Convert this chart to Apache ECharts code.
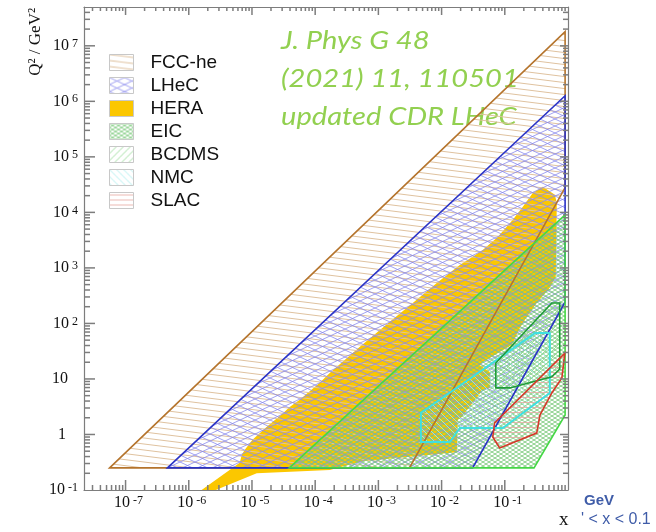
<!DOCTYPE html>
<html>
<head>
<meta charset="utf-8">
<script src="https://cdn.jsdelivr.net/npm/echarts@6/dist/echarts.min.js"></script>
<style>
  html, body { margin: 0; padding: 0; background: #fff; }
  #chart { width: 656px; height: 532px; }
</style>
</head>
<body>
<div id="chart"></div>
<script>
// kinematic regions, each point is [x, Q2 in GeV^2]
const FCC_HE = [[5.6e-8, 0.25], [0.9, 1.8e7], [0.9, 2.8e4], [3.1e-3, 0.25]];
const LHEC = [[4.6e-7, 0.25], [0.9, 1.26e6], [0.9, 244], [0.031, 0.25]];
const EIC = [[3.9e-5, 0.25], [0.9, 9.0e3], [0.9, 2.24], [0.29, 0.25]];
const HERA = [
    [1.5e-6, 0.095], [4.9e-6, 0.25], [6.4e-6, 0.31], [6.9e-6, 0.43], [7.7e-6, 0.53],
    [1.02e-5, 0.80], [1.7e-5, 1.36], [3.1e-5, 2.4], [3.9e-5, 3.1], [5.7e-5, 4.2],
    [1.18e-4, 8.5], [1.7e-4, 12.8], [5.1e-4, 38], [1.5e-3, 106], [3.5e-3, 234],
    [8.4e-3, 537], [0.0194, 1130], [0.031, 1580], [0.0448, 2110], [0.0774, 3620],
    [0.134, 7330], [0.193, 1.26e4], [0.277, 2.24e4], [0.40, 2.88e4], [0.62, 2.07e4],
    [0.665, 1.48e4], [0.64, 690], [0.515, 437], [0.32, 234], [0.223, 131],
    [0.173, 83], [0.129, 41], [0.0448, 20.2], [0.040, 17.9], [0.058, 13.4],
    [0.058, 6.9], [0.0448, 6.3], [0.0208, 2.07], [0.018, 1.82], [0.0174, 0.48],
    [5.6e-4, 0.33], [1.7e-4, 0.23], [1.19e-5, 0.20], [2.4e-6, 0.095]
];
const NMC = [[4.7e-3, 2.44], [4.7e-3, 0.73], [0.0135, 0.73], [0.0194, 1.31], [0.093, 1.31], [0.515, 5.6], [0.515, 67], [0.30, 67]];
const BCDMS = [[0.072, 19.4], [0.072, 6.9], [0.12, 6.9], [0.555, 10.9], [0.74, 15.1], [0.74, 234], [0.555, 234]];
const SLAC = [[0.069, 1.61], [0.0645, 0.90], [0.083, 0.57], [0.32, 1.06], [0.36, 2.24], [0.555, 5.6], [0.80, 10.4], [0.89, 29]];

const LEGEND_NAMES = ['FCC-he', 'LHeC', 'HERA', 'EIC', 'BCDMS', 'NMC', 'SLAC'];
const X_RANGE = [2.2e-8, 1];
const Q2_RANGE = [0.1, 5e7];
const X_TICK_POWERS = [-7, -6, -5, -4, -3, -2, -1];
const Y_TICK_POWERS = [-1, 0, 1, 2, 3, 4, 5, 6, 7];

// 1 (major) or 2..9 (minor) times each decade, kept inside the axis range
function logTicks(range, mults) {
    const out = [];
    for (let d = Math.floor(Math.log10(range[0])); d <= Math.ceil(Math.log10(range[1])); d++) {
        for (const k of mults) {
            const v = k * Math.pow(10, d);
            if (v > range[0] * 1.0001 && v < range[1] * 0.9999) out.push(v);
        }
    }
    return out;
}
const MINOR = [2, 3, 4, 5, 6, 7, 8, 9];

// little canvases used as hatch fills
function hatch(w, h, color, lw, segs) {
    const c = document.createElement('canvas');
    c.width = w; c.height = h;
    const ctx = c.getContext('2d');
    ctx.strokeStyle = color;
    ctx.lineWidth = lw;
    for (const s of segs) {
        for (const dx of [-w, 0, w]) {
            for (const dy of [-h, 0, h]) {
                ctx.beginPath();
                ctx.moveTo(s[0] + dx, s[1] + dy);
                ctx.lineTo(s[2] + dx, s[3] + dy);
                ctx.stroke();
            }
        }
    }
    return { image: c, repeat: 'repeat' };
}

const fillFcc = hatch(48, 6, '#dfc29f', 1, [[0, 0, 48, 6]]);
const fillLhec = hatch(15, 7, '#8a8aee', 0.8, [[0, 0, 15, 7], [0, 7, 15, 0]]);
const fillEic = hatch(6, 4, '#78c878', 0.85, [[0, 0, 6, 4], [0, 4, 6, 0]]);
const fillBcdms = hatch(7, 7, '#8fd88f', 0.8, [[0, 7, 7, 0]]);
const fillNmc = hatch(7, 7, '#a3eeee', 0.8, [[0, 0, 7, 7]]);
const fillSlac = hatch(8, 5, '#e6a79f', 0.8, [[0, 2.5, 8, 2.5]]);

function region(name, pts, fill, stroke) {
    return {
        type: 'custom',
        name: name,
        data: pts,
        clip: true,
        silent: true,
        z: 2,
        itemStyle: { color: fill, borderColor: stroke || 'transparent', borderWidth: 1 },
        renderItem: function (params, api) {
            if (params.dataIndex !== 0) return null;
            return {
                type: 'polygon',
                shape: { points: pts.map(p => api.coord(p)) },
                style: { fill: fill, stroke: null }
            };
        }
    };
}

function outline(name, pts, stroke, lw) {
    return {
        type: 'custom',
        name: name + ' edge',
        data: pts,
        clip: true,
        silent: true,
        z: 3,
        renderItem: function (params, api) {
            if (params.dataIndex !== 0) return null;
            return {
                type: 'polygon',
                shape: { points: pts.map(p => api.coord(p)) },
                style: { fill: null, stroke: stroke, lineWidth: lw }
            };
        }
    };
}

const lineCol = '#7d7d7d';

function isPower(v, list) {
    const l = Math.log10(v);
    const e = Math.round(l);
    return Math.abs(l - e) < 1e-6 && list.indexOf(e) >= 0 ? e : null;
}

const serif = 'Liberation Serif';

function logAxis(range, pos, label) {
    return {
        type: 'log',
        logBase: 10,
        min: range[0],
        max: range[1],
        position: pos,
        splitNumber: 10,
        axisLine: { show: true, onZero: false, lineStyle: { color: lineCol, width: 1.2 } },
        axisTick: { show: false },
        minorTick: { show: false },
        splitLine: { show: false },
        minorSplitLine: { show: false },
        axisLabel: label || { show: false }
    };
}

const xLabel = {
    margin: 5,
    formatter: function (v) {
        const e = isPower(v, X_TICK_POWERS);
        return e === null ? '' : '{b|10}{e|' + e + '}';
    },
    rich: {
        b: { fontFamily: serif, fontSize: 16, color: '#111', lineHeight: 16, padding: [8, 0, 0, 6], verticalAlign: 'bottom' },
        e: { fontFamily: serif, fontSize: 12, color: '#111', lineHeight: 12, padding: [0, 0, 0, 3], verticalAlign: 'top' }
    }
};

const yLabel = {
    margin: 6,
    formatter: function (v) {
        const e = isPower(v, Y_TICK_POWERS);
        if (e === null) return '';
        if (e === 0) return '{q|1}';
        if (e === 1) return '{p|10}';
        return '{b|10}{e|' + e + '}';
    },
    rich: {
        b: { fontFamily: serif, fontSize: 16, color: '#111', lineHeight: 16, padding: [4, 0, 0, 0], verticalAlign: 'bottom' },
        p: { fontFamily: serif, fontSize: 16, color: '#111', lineHeight: 16, padding: [4, 10, 0, 0], verticalAlign: 'bottom' },
        q: { fontFamily: serif, fontSize: 16, color: '#111', lineHeight: 16, padding: [4, 12, 0, 0], verticalAlign: 'bottom' },
        e: { fontFamily: serif, fontSize: 12, color: '#111', lineHeight: 12, padding: [0, 0, 0, 3], verticalAlign: 'top' }
    }
};

const texts = [
    {
        type: 'text', x: 36, y: 8, rotation: Math.PI / 2,
        style: { text: 'Q² / GeV²', font: '17px "Liberation Serif"', fill: '#111', align: 'right', verticalAlign: 'middle' }
    },
    {
        type: 'text', left: 559, top: 511,
        style: { text: 'x', font: '19px "Liberation Serif"', fill: '#111' }
    },
    {
        type: 'text', x: 281, y: 22, scaleX: 1.12,
        style: {
            text: 'J. Phys G 48\n(2021) 11, 110501\nupdated CDR LHeC',
            font: 'italic 26px Lato', fill: '#92d050', lineHeight: 38
        }
    },
    {
        type: 'text', left: 584, top: 493,
        style: { text: 'GeV', font: 'bold 15px "Liberation Sans"', fill: '#3f5ca8' }
    },
    {
        type: 'text', left: 581, top: 512,
        style: { text: "' < x < 0.1", font: '16px "Liberation Sans"', fill: '#3f5ca8' }
    }
];

const chart = echarts.init(document.getElementById('chart'));

chart.setOption({
    animation: false,
    backgroundColor: '#fff',
    grid: { left: 84, top: 7, width: 484, height: 483 },
    xAxis: [
        logAxis(X_RANGE, 'bottom', xLabel),
        logAxis(X_RANGE, 'top')
    ],
    yAxis: [
        logAxis(Q2_RANGE, 'left', yLabel),
        logAxis(Q2_RANGE, 'right')
    ],
    legend: {
        data: LEGEND_NAMES,
        orient: 'vertical',
        left: 109,
        top: 53,
        padding: 0,
        itemWidth: 24,
        itemHeight: 16,
        itemGap: 4,
        icon: 'rect',
        selectedMode: false,
        itemStyle: { borderColor: '#c8c8c8', borderWidth: 1 },
        textStyle: { fontFamily: 'Liberation Sans', fontSize: 19, color: '#111', padding: [0, 0, 0, 12] }
    },
    series: [
        region('HERA', HERA, '#fbc700'),
        region('FCC-he', FCC_HE, fillFcc, '#b5742c'),
        region('LHeC', LHEC, fillLhec, '#2a33c6'),
        region('EIC', EIC, fillEic, '#45d845'),
        region('NMC', NMC, fillNmc, '#3fe0e0'),
        region('BCDMS', BCDMS, fillBcdms, '#1f9c38'),
        region('SLAC', SLAC, fillSlac, '#d43a2a'),
        outline('FCC-he', FCC_HE, '#b5742c', 1.6),
        outline('LHeC', LHEC, '#2a33c6', 1.6),
        outline('EIC', EIC, '#45d845', 1.6),
        outline('NMC', NMC, '#3fe0e0', 2),
        outline('BCDMS', BCDMS, '#1f9c38', 1.6),
        outline('SLAC', SLAC, '#d43a2a', 1.6)
    ]
});

// ticks on all four sides of the frame, pointing inwards, placed through the axis scales
const ticks = [];
const x0 = chart.convertToPixel({ xAxisIndex: 0 }, X_RANGE[0]);
const x1 = chart.convertToPixel({ xAxisIndex: 0 }, X_RANGE[1]);
const y0 = chart.convertToPixel({ yAxisIndex: 0 }, Q2_RANGE[0]);
const y1 = chart.convertToPixel({ yAxisIndex: 0 }, Q2_RANGE[1]);
function seg(a, b, c, d) {
    ticks.push({ type: 'line', silent: true, z: 10, shape: { x1: a, y1: b, x2: c, y2: d }, style: { stroke: lineCol, lineWidth: 1.5 } });
}
function xTicks(vals, lenB, lenT) {
    vals.forEach(function (v) {
        const x = chart.convertToPixel({ xAxisIndex: 0 }, v);
        seg(x, y0, x, y0 - lenB);
        seg(x, y1, x, y1 + lenT);
    });
}
function yTicks(vals, lenL, lenR) {
    vals.forEach(function (v) {
        const y = chart.convertToPixel({ yAxisIndex: 0 }, v);
        seg(x0, y, x0 + lenL, y);
        seg(x1, y, x1 - lenR, y);
    });
}
xTicks(logTicks(X_RANGE, [1]), 10, 8);
xTicks(logTicks(X_RANGE, MINOR), 5, 4);
yTicks(logTicks(Q2_RANGE, [1]), 11, 8);
yTicks(logTicks(Q2_RANGE, MINOR), 6, 5);

chart.setOption({ graphic: texts.concat(ticks) });
</script>
</body>
</html>
